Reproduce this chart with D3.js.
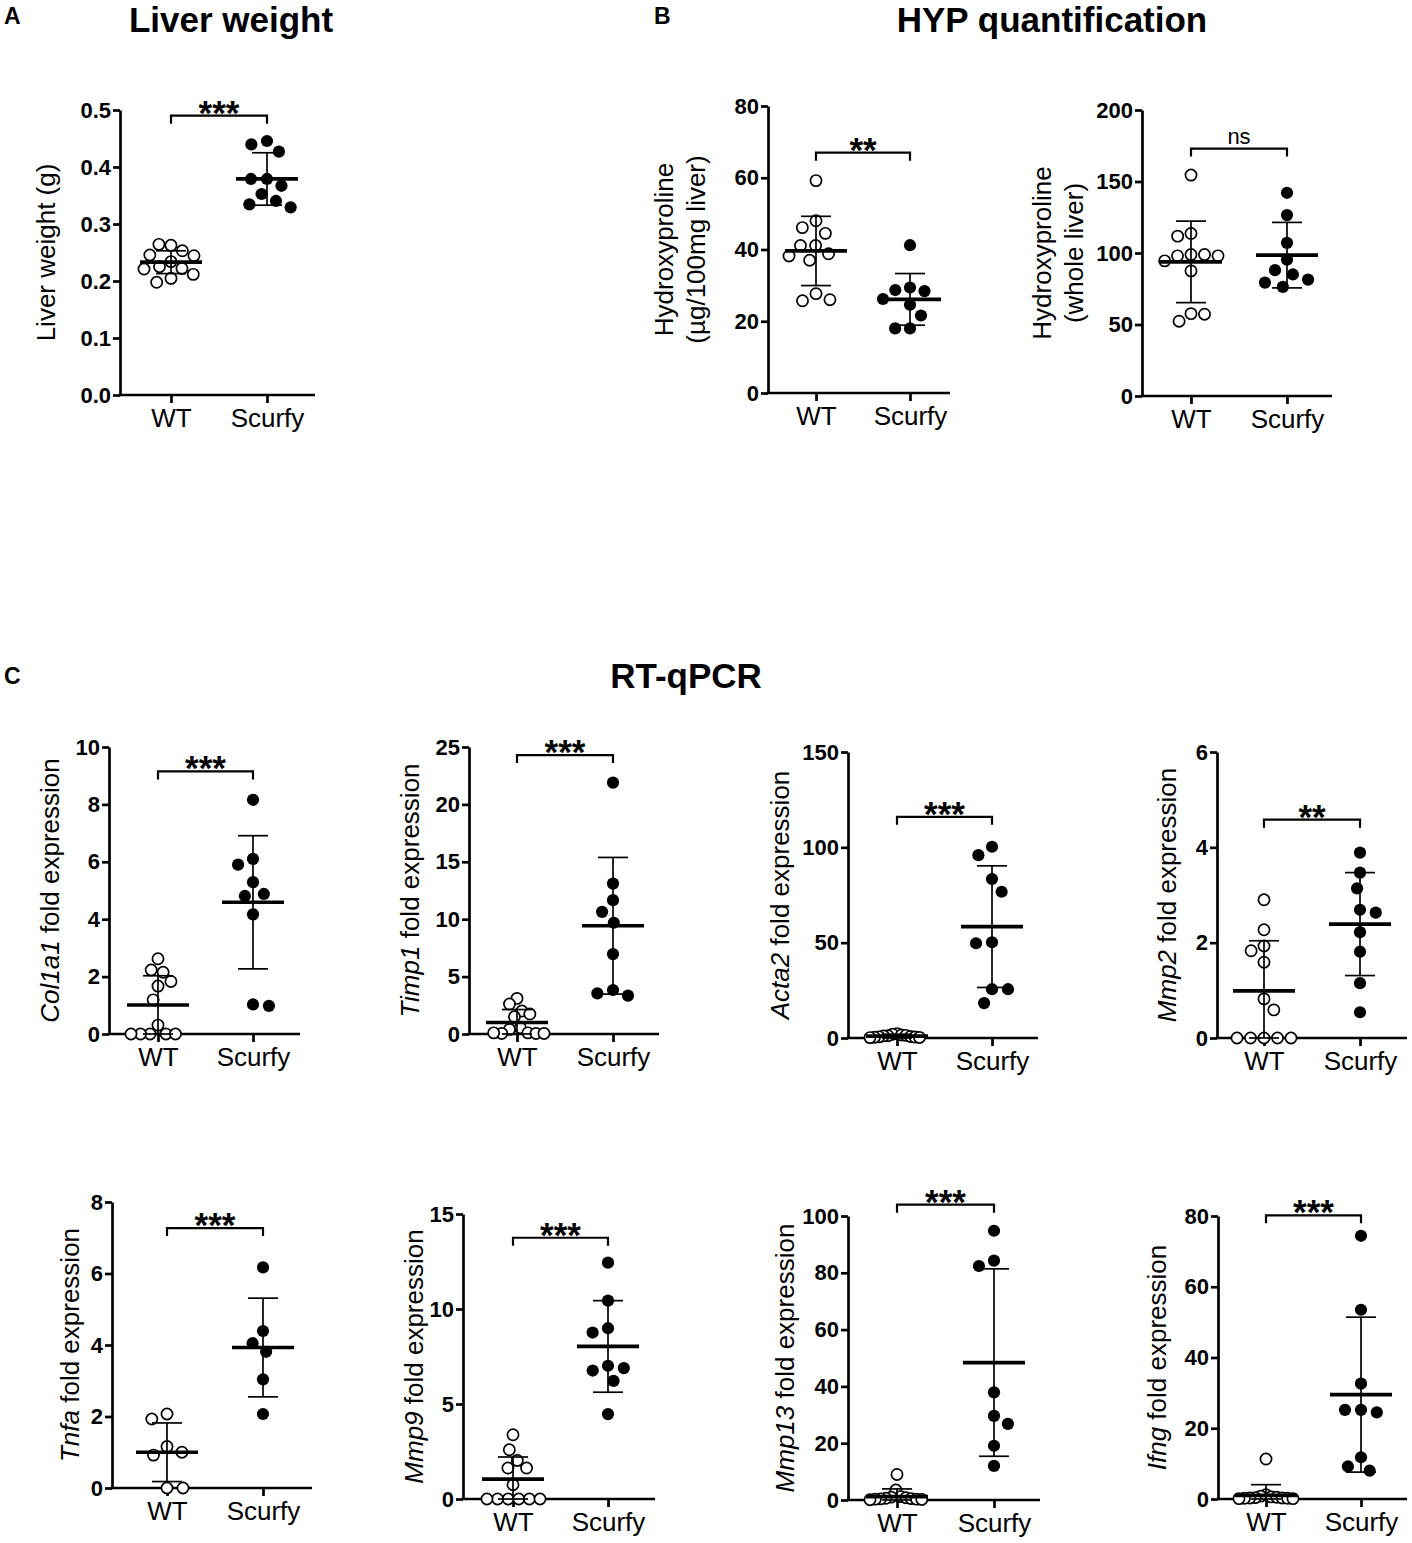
<!DOCTYPE html>
<html>
<head>
<meta charset="utf-8">
<script src="https://cdn.jsdelivr.net/npm/d3@7"></script>
<style>
  body { margin: 0; background: #fff; }
  svg { display: block; }
</style>
</head>
<body>
<svg id="fig" width="1412" height="1543"></svg>
<script>
// ---- data ----
const groups = ["WT", "Scurfy"];

const liverWT = [0.2626, 0.2643, 0.253, 0.2456, 0.2444, 0.234, 0.225, 0.222, 0.221, 0.2117, 0.2047, 0.1977];
const liverScurfy = [0.4456, 0.4398, 0.4269, 0.379, 0.379, 0.367, 0.3526, 0.3404, 0.3345, 0.3292];
const hypConcWT = [59.2, 48.0, 46.1, 44.5, 41.1, 41.1, 38.8, 38.2, 37.0, 27.7, 26.0, 25.7];
const hypConcScurfy = [41.2, 29.4, 28.7, 28.4, 26.2, 24.6, 21.6, 18.0, 18.0];
const hypWholeWT = [154.5, 113.6, 111.8, 98.9, 98.9, 98.0, 98.0, 94.5, 87.5, 57.6, 57.2, 52.3];
const hypWholeScurfy = [142.1, 126.5, 107.1, 95.4, 88.0, 85.0, 81.4, 79.3, 76.3];
const col1a1WT = [2.62, 2.23, 2.15, 1.83, 1.67, 1.19, 0.31, 0, 0, 0, 0, 0];
const col1a1Scurfy = [8.16, 6.10, 5.90, 5.29, 4.88, 4.81, 4.17, 1.03, 0.98];
const timp1WT = [3.10, 2.61, 2.0, 1.74, 1.5, 0.55, 0.4, 0.1, 0.05, 0.05, 0.1, 0.05];
const timp1Scurfy = [21.9, 13.1, 11.66, 10.64, 9.69, 6.96, 3.83, 3.54, 3.34];
const acta2WT = [2.3, 2.0, 1.6, 1.4, 1.2, 1.1, 0.8, 0.6, 0.5, 0.4, 0.3, 0.2];
const acta2Scurfy = [100.3, 95.9, 83.4, 76.7, 50.2, 49.7, 25.6, 25.6, 18.3];
const mmp2WT = [2.90, 2.27, 1.93, 1.83, 1.59, 0.82, 0.59, 0, 0, 0, 0, 0];
const mmp2Scurfy = [3.89, 3.47, 3.14, 2.69, 2.63, 2.22, 1.81, 1.15, 0.54];
const tnfaWT = [2.07, 1.93, 1.16, 1.0, 0.92, 0, 0];
const tnfaScurfy = [6.17, 4.39, 4.05, 3.81, 3.04, 2.07];
const mmp9WT = [3.38, 2.59, 2.03, 1.63, 1.63, 0.75, 0, 0, 0, 0, 0, 0];
const mmp9Scurfy = [12.44, 10.44, 8.99, 8.76, 7.01, 6.89, 6.76, 6.22, 4.47];
const mmp13WT = [9.0, 3.5, 1.2, 1.0, 0.8, 0.6, 0.5, 0.4, 0.3, 0.3, 0.2, 0.1];
const mmp13Scurfy = [94.8, 84.3, 82.4, 37.9, 29.6, 26.8, 19.1, 12.0];
const ifngWT = [11.3, 1.2, 0.8, 0.6, 0.5, 0.4, 0.3, 0.3, 0.2, 0.2, 0.1, 0.1];
const ifngScurfy = [74.4, 53.5, 32.6, 25.2, 25.2, 24.5, 11.8, 9.2, 8.0];

// mean and SD bars as drawn in the figure (panel order A, B, B, then C row by row)
const wtMean = [0.233, 39.6, 93.8, 1.01, 1.0, 1.0, 0.99, 1.0, 1.05, 1.2, 1.0];
const wtSD = [0.020, 9.65, 28.5, 1.02, 1.13, 1.0, 1.05, 0.82, 1.16, 2.7, 3.05];
const scurfyMean = [0.379, 26.1, 98.5, 4.59, 9.43, 58.4, 2.39, 3.93, 8.03, 48.4, 29.5];
const scurfySD = [0.046, 7.2, 22.9, 2.32, 5.95, 31.9, 1.08, 1.38, 2.41, 33.0, 21.9];

const yMax = [0.5, 80, 200, 10, 25, 150, 6, 8, 15, 100, 80];
const yStep = [0.1, 20, 50, 2, 5, 50, 2, 2, 5, 20, 20];
const tickFmt = [".1f", "d", "d", "d", "d", "d", "d", "d", "d", "d", "d"];
const sigText = ["***", "**", "ns", "***", "***", "***", "**", "***", "***", "***", "***"];
const sigLevel = [0.49, 67, 173, 9.15, 24.3, 116, 4.58, 7.27, 13.75, 104, 80.2];
const yTitles = [["Liver weight (g)"], ["Hydroxyproline", "(µg/100mg liver)"], ["Hydroxyproline", "(whole liver)"]];
const genes = ["Col1a1", "Timp1", "Acta2", "Mmp2", "Tnfa", "Mmp9", "Mmp13", "Ifng"];

// ---- layout (pixels) ----
const frames = [
  {x0: 120, xw: 171, xs: 267, x1: 315, y0: 395, y1: 110, tx: [48]},
  {x0: 768, xw: 816, xs: 910, x1: 950, y0: 393, y1: 106, tx: [666, 698]},
  {x0: 1142, xw: 1191, xs: 1287, x1: 1332, y0: 396, y1: 110, tx: [1044, 1076]},
  {x0: 109, xw: 158, xs: 253, x1: 300, y0: 1034, y1: 747, tx: [52]},
  {x0: 469, xw: 517, xs: 613, x1: 659, y0: 1034, y1: 747, tx: [412]},
  {x0: 848, xw: 897, xs: 992, x1: 1038, y0: 1038, y1: 752, tx: [782]},
  {x0: 1217, xw: 1264, xs: 1360, x1: 1407, y0: 1038, y1: 752, tx: [1169]},
  {x0: 112, xw: 167, xs: 263, x1: 312, y0: 1488, y1: 1202, tx: [72]},
  {x0: 463, xw: 513, xs: 608, x1: 655, y0: 1499, y1: 1214, tx: [416]},
  {x0: 848, xw: 897, xs: 994, x1: 1040, y0: 1500, y1: 1216, tx: [787]},
  {x0: 1218, xw: 1266, xs: 1361, x1: 1407, y0: 1499, y1: 1216, tx: [1159]}
];

const FONT = "'Liberation Sans', Arial, Helvetica, sans-serif";

const panels = [
  [liverWT, liverScurfy], [hypConcWT, hypConcScurfy], [hypWholeWT, hypWholeScurfy],
  [col1a1WT, col1a1Scurfy], [timp1WT, timp1Scurfy], [acta2WT, acta2Scurfy], [mmp2WT, mmp2Scurfy],
  [tnfaWT, tnfaScurfy], [mmp9WT, mmp9Scurfy], [mmp13WT, mmp13Scurfy], [ifngWT, ifngScurfy]
];

const svg = d3.select("#fig").attr("font-family", FONT);

// simple beeswarm: each point takes the free horizontal spot closest to the column centre
function swarm(vals, y, d) {
  const placed = [];
  vals.forEach(v => {
    const py = y(v);
    const near = placed.filter(p => Math.abs(p.py - py) < d);
    const cands = [0];
    near.forEach(p => {
      const dx = Math.sqrt(d * d - (p.py - py) * (p.py - py));
      cands.push(p.x + dx, p.x - dx);
    });
    const ok = cands.filter(c => near.every(p => Math.hypot(p.x - c, p.py - py) >= d - 0.01));
    const nl = placed.filter(p => p.x < -0.5).length;
    const nr = placed.filter(p => p.x > 0.5).length;
    ok.sort((a, b) => {
      const da = Math.abs(a) - Math.abs(b);
      if (Math.abs(da) > 1e-6) return da;
      return nl <= nr ? a - b : b - a;
    });
    placed.push({v: v, py: py, x: ok[0]});
  });
  const m = d3.max(placed, p => Math.abs(p.x));
  const k = m > 27 ? 27 / m : 1;
  placed.forEach(p => { p.x *= k; });
  return placed;
}

panels.forEach((vals, i) => {
  const f = frames[i];
  const g = svg.append("g");
  const y = d3.scaleLinear().domain([0, yMax[i]]).range([f.y0, f.y1]);
  const x = d3.scalePoint().domain(groups).range([f.xw, f.xs]);

  // y axis
  g.append("g")
    .attr("transform", `translate(${f.x0},0)`)
    .call(d3.axisLeft(y)
      .tickValues(d3.range(0, yMax[i] + yStep[i] / 2, yStep[i]))
      .tickSize(7).tickSizeOuter(0).tickPadding(2)
      .tickFormat(d3.format(tickFmt[i])))
    .call(a => a.selectAll("text").attr("font-size", 22).attr("font-weight", "bold")
      .attr("font-family", FONT).attr("fill", "#000"))
    .call(a => a.selectAll("line,path").attr("stroke", "#000").attr("stroke-width", 2.7));

  // x axis
  g.append("g")
    .attr("transform", `translate(0,${f.y0})`)
    .call(d3.axisBottom(x).tickSize(8).tickPadding(6))
    .call(a => a.select(".domain").remove())
    .call(a => a.selectAll("text").attr("font-size", 26).attr("font-family", FONT).attr("fill", "#000"))
    .call(a => a.selectAll("line").attr("stroke", "#000").attr("stroke-width", 2.7));
  g.append("line")
    .attr("x1", f.x0 - 1.35).attr("x2", f.x1)
    .attr("y1", f.y0).attr("y2", f.y0)
    .attr("stroke", "#000").attr("stroke-width", 2.7);

  // y title
  if (i < 3) {
    yTitles[i].forEach((t, k) => {
      g.append("text")
        .attr("transform", `translate(${f.tx[k]},${(f.y0 + f.y1) / 2}) rotate(-90)`)
        .attr("text-anchor", "middle").attr("dy", "0.25em")
        .attr("font-size", 26).text(t);
    });
  } else {
    const t = g.append("text")
      .attr("transform", `translate(${f.tx[0]},${(f.y0 + f.y1) / 2}) rotate(-90)`)
      .attr("text-anchor", "middle").attr("dy", "0.25em")
      .attr("font-size", 26);
    t.append("tspan").attr("font-style", "italic").text(genes[i - 3]);
    t.append("tspan").text(" fold expression");
  }

  // points
  const means = [wtMean[i], scurfyMean[i]];
  const sds = [wtSD[i], scurfySD[i]];
  groups.forEach((grp, j) => {
    const cx = x(grp);
    const pts = swarm(vals[j], y, 16);
    g.append("g").selectAll("circle")
      .data(pts)
      .join("circle")
      .attr("cx", p => cx + p.x)
      .attr("cy", p => p.py)
      .attr("r", j === 0 ? 5.6 : 6.1)
      .attr("fill", j === 0 ? "#fff" : "#000")
      .attr("stroke", "#000")
      .attr("stroke-width", j === 0 ? 1.7 : 0);

    // SD bar and mean line
    const lo = Math.max(0, means[j] - sds[j]);
    const hi = means[j] + sds[j];
    const sd = g.append("g").attr("stroke", "#000").attr("stroke-width", 1.7);
    sd.append("line").attr("x1", cx).attr("x2", cx).attr("y1", y(lo)).attr("y2", y(hi));
    sd.append("line").attr("x1", cx - 15).attr("x2", cx + 15).attr("y1", y(hi)).attr("y2", y(hi));
    sd.append("line").attr("x1", cx - 15).attr("x2", cx + 15).attr("y1", y(lo)).attr("y2", y(lo));
    g.append("line")
      .attr("x1", cx - 31).attr("x2", cx + 31)
      .attr("y1", y(means[j])).attr("y2", y(means[j]))
      .attr("stroke", "#000").attr("stroke-width", 3.7);
  });

  // significance bracket
  const by = y(sigLevel[i]);
  const xa = x("WT"), xb = x("Scurfy");
  g.append("path")
    .attr("d", `M${xa},${by + 8}V${by}H${xb}V${by + 8}`)
    .attr("fill", "none").attr("stroke", "#000").attr("stroke-width", 2.2);
  const ns = sigText[i] === "ns";
  g.append("text")
    .attr("x", (xa + xb) / 2)
    .attr("y", ns ? by - 5 : by + 9)
    .attr("text-anchor", "middle")
    .attr("font-size", ns ? 22 : 35)
    .attr("font-weight", ns ? "normal" : "bold")
    .text(sigText[i]);
});

// panel letters and titles
const heads = [
  {t: "A", x: 4, y: 24, s: 23, a: "start"},
  {t: "B", x: 654, y: 24, s: 23, a: "start"},
  {t: "C", x: 4, y: 684, s: 23, a: "start"},
  {t: "Liver weight", x: 231, y: 32, s: 35, a: "middle"},
  {t: "HYP quantification", x: 1052, y: 32, s: 35, a: "middle"},
  {t: "RT-qPCR", x: 686, y: 688, s: 35, a: "middle"}
];
svg.append("g").selectAll("text")
  .data(heads)
  .join("text")
  .attr("x", d => d.x).attr("y", d => d.y)
  .attr("text-anchor", d => d.a)
  .attr("font-size", d => d.s)
  .attr("font-weight", "bold")
  .text(d => d.t);
</script>
</body>
</html>
